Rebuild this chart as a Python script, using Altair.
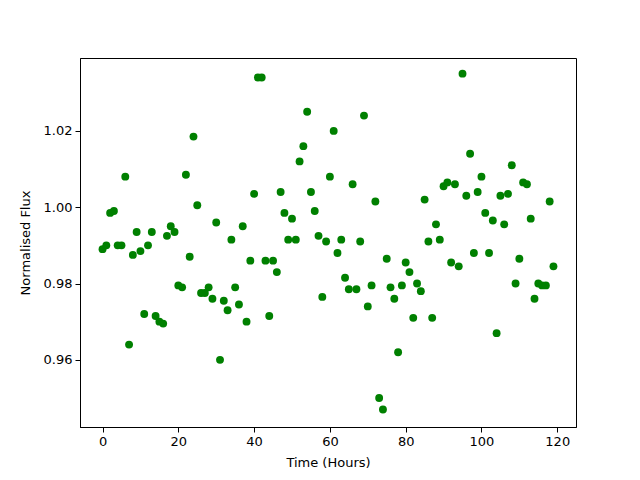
import altair as alt
import pandas as pd

hours = list(range(120))
flux = [
    0.989, 0.990, 0.9985, 0.999, 0.990, 0.990, 1.008, 0.964, 0.9875, 0.9935,
    0.9885, 0.972, 0.990, 0.9935, 0.9715, 0.970, 0.9695, 0.9925, 0.995, 0.9935,
    0.9795, 0.979, 1.0085, 0.987, 1.0185, 1.0005, 0.9775, 0.9775, 0.979, 0.976,
    0.996, 0.960, 0.9755, 0.973, 0.9915, 0.979, 0.9745, 0.995, 0.970, 0.986,
    1.0035, 1.034, 1.034, 0.986, 0.9715, 0.986, 0.983, 1.004, 0.9985, 0.9915,
    0.997, 0.9915, 1.012, 1.016, 1.025, 1.004, 0.999, 0.9925, 0.9765, 0.991,
    1.008, 1.020, 0.988, 0.9915, 0.9815, 0.9785, 1.006, 0.9785, 0.991, 1.024,
    0.974, 0.9795, 1.0015, 0.950, 0.947, 0.9865, 0.979, 0.976, 0.962, 0.9795,
    0.9855, 0.983, 0.971, 0.980, 0.978, 1.002, 0.991, 0.971, 0.9955, 0.9915,
    1.0055, 1.0065, 0.9855, 1.006, 0.9845, 1.035, 1.003, 1.014, 0.988, 1.004,
    1.008, 0.9985, 0.988, 0.9965, 0.967, 1.003, 0.9955, 1.0035, 1.011, 0.980,
    0.9865, 1.0065, 1.006, 0.997, 0.976, 0.980, 0.9795, 0.9795, 1.0015, 0.9845,
]
x_ticks = [0, 20, 40, 60, 80, 100, 120]
y_ticks = [0.96, 0.98, 1.00, 1.02]

df = pd.DataFrame({"hours": hours, "flux": flux})

chart = (
    alt.Chart(df)
    .mark_circle(size=62, color="#008000", opacity=1)
    .encode(
        x=alt.X(
            "hours:Q",
            scale=alt.Scale(domain=[-5.95, 124.95], nice=False, zero=False),
            axis=alt.Axis(values=x_ticks, title="Time (Hours)", format="d"),
        ),
        y=alt.Y(
            "flux:Q",
            scale=alt.Scale(domain=[0.9424, 1.0391], nice=False, zero=False),
            axis=alt.Axis(values=y_ticks, title="Normalised Flux", format=".2f"),
        ),
    )
    .properties(
        width=496,
        height=369,
        autosize=alt.AutoSizeParams(type="none"),
        padding={"left": 72, "top": 50, "right": 30, "bottom": 45},
    )
    .configure_view(stroke="black", strokeWidth=1)
    .configure_axis(
        grid=False,
        domainColor="black",
        tickColor="black",
        tickSize=5,
        labelColor="black",
        titleColor="black",
        labelFont="DejaVu Sans",
        titleFont="DejaVu Sans",
        labelFontSize=13,
        titleFontSize=13,
        titleFontWeight="normal",
        labelPadding=3,
    )
    .configure_axisY(titlePadding=11)
    .configure_axisX(titlePadding=8)
)

chart.save("out.html", embed_options={"renderer": "svg", "actions": False})
